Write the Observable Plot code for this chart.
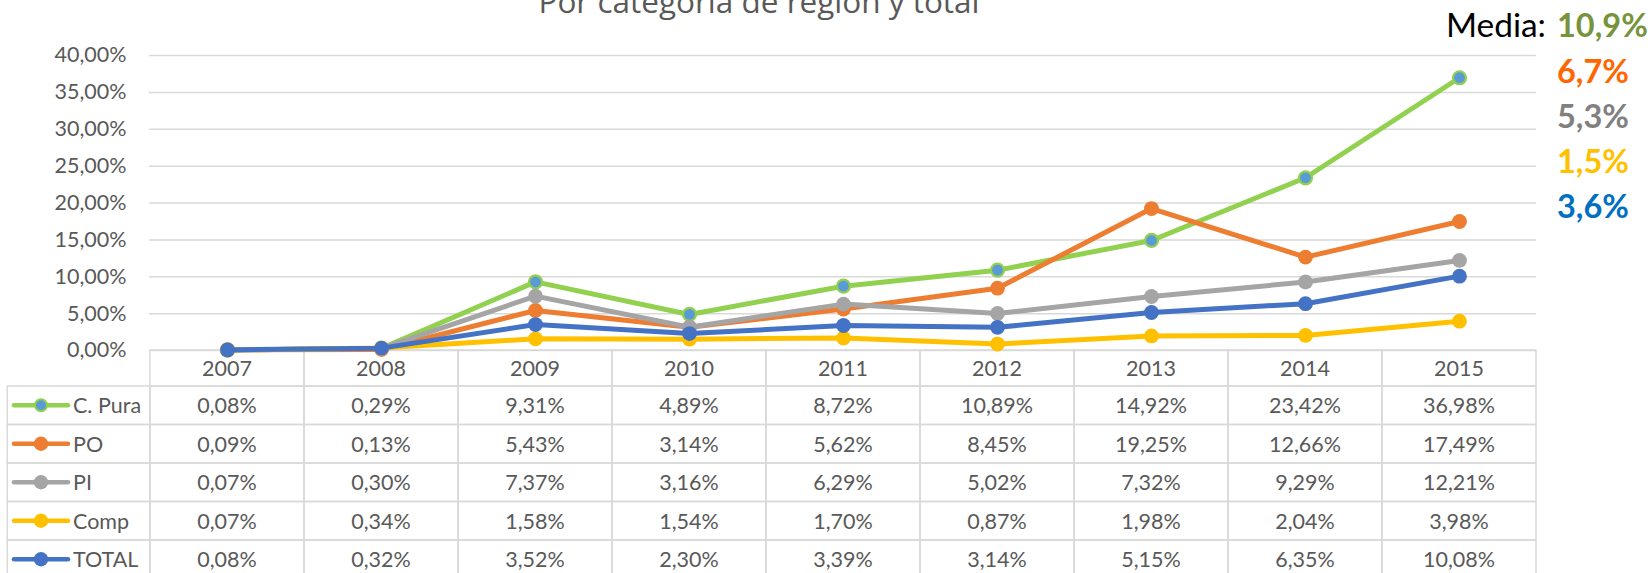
<!DOCTYPE html>
<html><head><meta charset="utf-8">
<script src="https://cdn.jsdelivr.net/npm/d3@7"></script>
<script src="https://cdn.jsdelivr.net/npm/@observablehq/plot@0.6"></script>
<style>
html,body{margin:0;padding:0;background:#fff;overflow:hidden}
#wrap{position:relative;width:1651px;height:573px;overflow:hidden;background:#fff}
#wrap > svg{position:absolute;left:0;top:0}
</style></head><body>
<div id="wrap"></div>
<script>
// ---- data ----
const years = ["2007","2008","2009","2010","2011","2012","2013","2014","2015"];
const seriesNames = ["C. Pura","PO","PI","Comp","TOTAL"];
const cPura = [0.08, 0.29, 9.31, 4.89, 8.72, 10.89, 14.92, 23.42, 36.98];
const po    = [0.09, 0.13, 5.43, 3.14, 5.62, 8.45, 19.25, 12.66, 17.49];
const pi    = [0.07, 0.30, 7.37, 3.16, 6.29, 5.02, 7.32, 9.29, 12.21];
const comp  = [0.07, 0.34, 1.58, 1.54, 1.70, 0.87, 1.98, 2.04, 3.98];
const total = [0.08, 0.32, 3.52, 2.30, 3.39, 3.14, 5.15, 6.35, 10.08];
const seriesValues = [cPura, po, pi, comp, total];
const yTicks = [0, 0.05, 0.10, 0.15, 0.20, 0.25, 0.30, 0.35, 0.40];
const mediaLabels = ["10,9%", "6,7%", "5,3%", "1,5%", "3,6%"];
const titleText = "Por categoría de región y total";

// ---- styles ----
const lineColors   = ["#92D050", "#ED7D31", "#A5A5A5", "#FFC000", "#4472C4"];
const markerFills  = ["#5B9BD5", "#ED7D31", "#A5A5A5", "#FFC000", "#4472C4"];
const mediaColors  = ["#77933C", "#FF6600", "#808080", "#FFC000", "#0070C0"];
const textGray = "#595959";
const gridGray = "#D9D9D9";

const rows = seriesNames.flatMap((s, i) =>
  years.map((y, j) => ({series: s, idx: i, year: y, value: seriesValues[i][j] / 100})));

const pct2 = d => d3.format(".2%")(d).replace(".", ",");
const cellFmt = v => v.toFixed(2).replace(".", ",") + "%";

const chart = Plot.plot({
  width: 1651,
  height: 360,
  marginLeft: 149,
  marginRight: 115,
  marginTop: 55,
  marginBottom: 10,
  style: {background: "transparent", overflow: "visible", fontFamily: "Lato, sans-serif", fontSize: "21px", color: textGray},
  x: {type: "band", domain: years, padding: 0, axis: null, label: null},
  y: {domain: [0, 0.40], axis: null, label: null},
  marks: [
    Plot.gridY(yTicks, {stroke: gridGray, strokeOpacity: 1, strokeWidth: 1.5}),
    Plot.axisY(yTicks, {tickFormat: pct2, tickSize: 0, tickPadding: 23, fontSize: 21.5, fill: textGray, label: null}),
    ...seriesNames.flatMap((s, i) => {
      const d = rows.filter(r => r.series === s);
      return [
        Plot.line(d, {x: "year", y: "value", stroke: lineColors[i], strokeWidth: 5, strokeLinejoin: "round", strokeLinecap: "round"}),
        Plot.dot(d, {x: "year", y: "value", r: i === 0 ? 6.5 : 7.4, fill: markerFills[i],
                     stroke: lineColors[i], strokeWidth: i === 0 ? 2.2 : 0})
      ];
    })
  ]
});

const wrap = d3.select("#wrap");

// ---- table + annotations layer (column positions from Plot's x scale) ----
const xs = chart.scale("x");
const bw = xs.bandwidth;
const ys = chart.scale("y");
const zeroY = ys.apply(0);
const headerH = 36, rowH = 38.5;
const legendLeft = 7.3;
const plotLeft = xs.apply(years[0]);
const fs = "21.5px";

const svg = wrap.append("svg").attr("width", 1651).attr("height", 573)
  .style("font-family", "Lato, sans-serif");

// title (cut at the top edge, as in the reference)
svg.append("text").attr("x", 759).attr("y", 13.3).attr("text-anchor", "middle")
  .style("font-family", "'Open Sans', sans-serif").style("font-size", "31.5px")
  .attr("fill", textGray).text(titleText);

const tbl = svg.append("g");
years.forEach(y => {
  tbl.append("rect").attr("x", xs.apply(y)).attr("y", zeroY).attr("width", bw).attr("height", headerH)
    .attr("fill", "none").attr("stroke", gridGray).attr("stroke-width", 1.5);
  tbl.append("text").attr("x", xs.apply(y) + bw / 2).attr("y", zeroY + headerH / 2)
    .attr("text-anchor", "middle").attr("dominant-baseline", "central")
    .attr("fill", textGray).style("font-size", fs).text(y);
});
seriesNames.forEach((s, i) => {
  const top = zeroY + headerH + i * rowH;
  const cy = top + rowH / 2;
  tbl.append("rect").attr("x", legendLeft).attr("y", top).attr("width", plotLeft - legendLeft).attr("height", rowH)
    .attr("fill", "none").attr("stroke", gridGray).attr("stroke-width", 1.5);
  tbl.append("line").attr("x1", 14).attr("x2", 68).attr("y1", cy).attr("y2", cy)
    .attr("stroke", lineColors[i]).attr("stroke-width", 4.5).attr("stroke-linecap", "round");
  tbl.append("circle").attr("cx", 41).attr("cy", cy).attr("r", i === 0 ? 6 : 7.2)
    .attr("fill", markerFills[i]).attr("stroke", lineColors[i]).attr("stroke-width", i === 0 ? 2 : 0);
  tbl.append("text").attr("x", 73).attr("y", cy).attr("dominant-baseline", "central")
    .attr("fill", textGray).style("font-size", fs).text(s);
  years.forEach((y, j) => {
    tbl.append("rect").attr("x", xs.apply(y)).attr("y", top).attr("width", bw).attr("height", rowH)
      .attr("fill", "none").attr("stroke", gridGray).attr("stroke-width", 1.5);
    tbl.append("text").attr("x", xs.apply(y) + bw / 2).attr("y", cy)
      .attr("text-anchor", "middle").attr("dominant-baseline", "central")
      .attr("fill", textGray).style("font-size", fs).text(cellFmt(seriesValues[i][j]));
  });
});

// media annotations
svg.append("text").attr("x", 1546).attr("y", 37.3).attr("text-anchor", "end")
  .style("font-size", "33.5px").attr("fill", "#000").text("Media:");
mediaLabels.forEach((m, i) => {
  svg.append("text").attr("x", 1557).attr("y", 37.3 + i * 45.2)
    .style("font-size", "32.5px").style("font-weight", 700).attr("fill", mediaColors[i]).text(m);
});

// chart on top of the table
wrap.node().appendChild(chart);
d3.select(chart).style("position", "absolute").style("left", "0px").style("top", "0px");
</script>
</body></html>
